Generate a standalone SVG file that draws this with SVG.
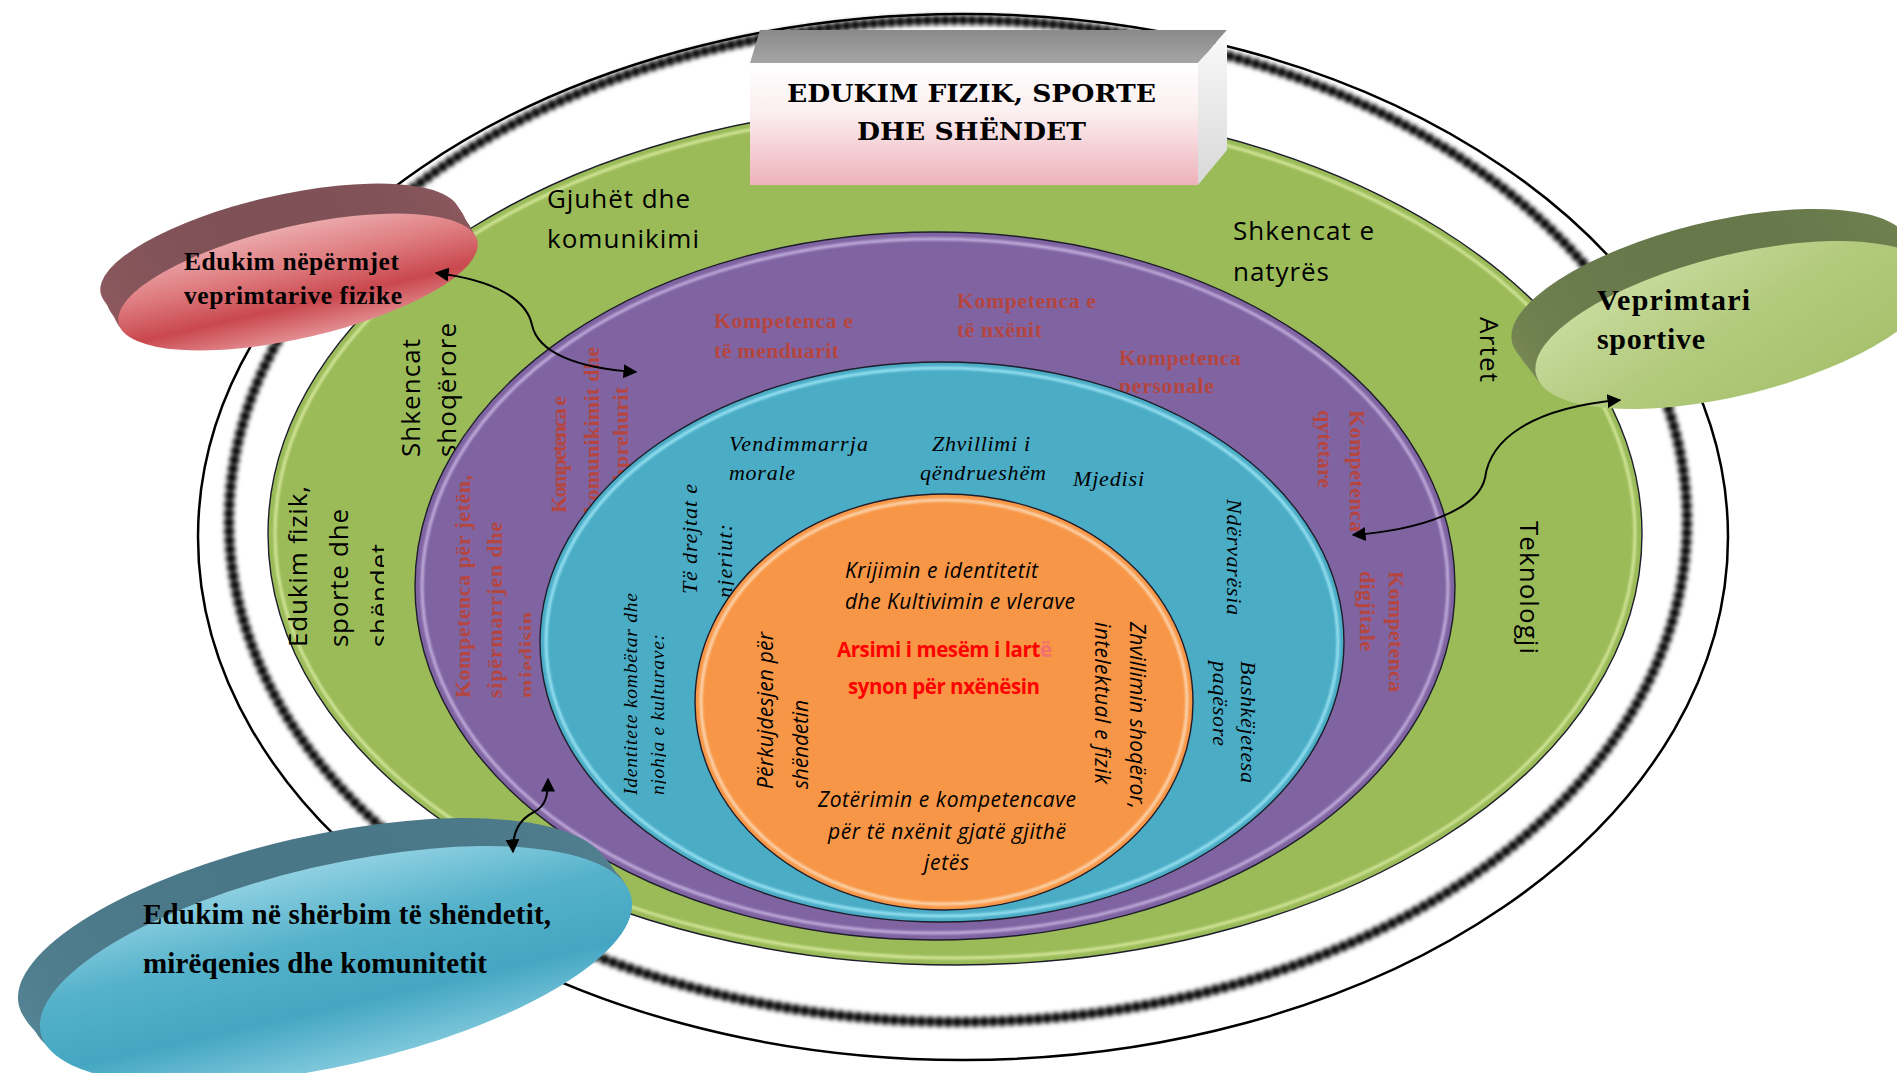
<svg xmlns="http://www.w3.org/2000/svg" width="1897" height="1073" viewBox="0 0 1897 1073">
<defs>
<style>
.sans{font-family:'Open Sans','Liberation Sans',sans-serif;font-size:26px;fill:#000}
.sansi{font-family:'Open Sans','Liberation Sans',sans-serif;font-style:italic;font-size:21px;fill:#000}
.red{font-family:'Open Sans','Liberation Sans',sans-serif;font-weight:bold;font-size:20.5px;fill:#FF0000}
.comp{font-family:'Liberation Serif','Times New Roman',serif;font-weight:bold;font-size:22px;fill:#B5453F}
.seri{font-family:'Liberation Serif','Times New Roman',serif;font-style:italic;font-size:22px;fill:#000}
.disk{font-family:'Liberation Serif','Times New Roman',serif;font-weight:bold;fill:#000}
.title{font-family:'DejaVu Serif','Liberation Serif',serif;font-weight:bold;font-size:24px;fill:#000}
.edge{fill:none;stroke:#1d1d2b;stroke-width:1.4}
.hl{fill:none;stroke-width:3;filter:url(#soft);opacity:.85}
.conn{fill:none;stroke:#000;stroke-width:2;marker-start:url(#ah);marker-end:url(#ah)}
</style>
<filter id="soft" x="-5%" y="-5%" width="110%" height="110%"><feGaussianBlur stdDeviation="1.2"/></filter>
<filter id="blur3" x="-5%" y="-5%" width="110%" height="110%"><feGaussianBlur stdDeviation="2"/></filter>
<marker id="ah" viewBox="0 0 10 10" refX="9" refY="5" markerWidth="7" markerHeight="7" orient="auto-start-reverse" markerUnits="strokeWidth"><path d="M0,0 L10,5 L0,10 z" fill="#000"/></marker>
<linearGradient id="redFace" x1="0" y1="0" x2="0" y2="1"><stop offset="0" stop-color="#eba8aa"/><stop offset=".35" stop-color="#de7c80"/><stop offset=".7" stop-color="#c9484e"/><stop offset="1" stop-color="#e38e92"/></linearGradient>
<linearGradient id="redRim" x1="0" y1="0" x2="0" y2="1"><stop offset="0" stop-color="#7e5156"/><stop offset="1" stop-color="#9c6167"/></linearGradient>
<linearGradient id="greenFace" x1="0" y1="0" x2="1" y2="1"><stop offset="0" stop-color="#cfe0a8"/><stop offset=".5" stop-color="#b2ca7c"/><stop offset="1" stop-color="#a3bf6a"/></linearGradient>
<linearGradient id="greenRim" x1="0" y1="0" x2="0" y2="1"><stop offset="0" stop-color="#66774a"/><stop offset="1" stop-color="#85965d"/></linearGradient>
<linearGradient id="blueFace" x1="0" y1="0" x2="0" y2="1"><stop offset="0" stop-color="#8fd0e2"/><stop offset=".35" stop-color="#55b2ca"/><stop offset=".7" stop-color="#44a6c2"/><stop offset="1" stop-color="#7fc8dc"/></linearGradient>
<linearGradient id="blueRim" x1="0" y1="0" x2="0" y2="1"><stop offset="0" stop-color="#4a7788"/><stop offset="1" stop-color="#5b8d9e"/></linearGradient>
<linearGradient id="front" x1="0" y1="0" x2="0" y2="1"><stop offset="0" stop-color="#ffffff"/><stop offset=".4" stop-color="#fbeff0"/><stop offset="1" stop-color="#eeb2bb"/></linearGradient>
<linearGradient id="topFace" x1="0" y1="0" x2="0" y2="1"><stop offset="0" stop-color="#8a8a8a"/><stop offset="1" stop-color="#a5a5a5"/></linearGradient>
<linearGradient id="rightFace" x1="0" y1="0" x2="0" y2="1"><stop offset="0" stop-color="#fafafa"/><stop offset="1" stop-color="#d8d8d8"/></linearGradient>
<ellipse id="redE" cx="0" cy="0" rx="184" ry="56" transform="rotate(-13)"/>
<ellipse id="greenE" cx="0" cy="0" rx="205" ry="70" transform="rotate(-14)"/>
<ellipse id="blueE" cx="0" cy="0" rx="303" ry="100" transform="rotate(-13)"/>
<clipPath id="clipA"><rect x="0" y="0" width="384" height="1073"/></clipPath>
<clipPath id="clipB"><rect x="0" y="0" width="531" height="1073"/></clipPath>
<clipPath id="clipC"><rect x="0" y="0" width="734" height="1073"/></clipPath>
<clipPath id="clipD"><rect x="0" y="0" width="666" height="1073"/></clipPath>
</defs>

<rect x="0" y="0" width="1897" height="1073" fill="#ffffff"/>

<g id="ring-outer">
<ellipse cx="963" cy="537" rx="765" ry="523" fill="#ffffff" stroke="#000" stroke-width="2.5"/>
<g filter="url(#blur3)">
<ellipse cx="958" cy="521" rx="729" ry="501" fill="none" stroke="#000" stroke-width="6" opacity=".75"/>
<ellipse cx="958" cy="521" rx="729" ry="501" fill="none" stroke="#000" stroke-width="10" stroke-dasharray="6 3"/>
</g>
</g>

<g id="band-subjects">
<ellipse cx="955" cy="534" rx="687" ry="431" fill="#9BBB59"/>
<ellipse class="hl" cx="955" cy="534" rx="680" ry="424" stroke="#dcedA4"/>
<ellipse class="edge" cx="955" cy="534" rx="687" ry="431"/>
<text class="sans" x="547" y="208" textLength="143">Gjuhët dhe</text>
<text class="sans" x="547" y="248" textLength="152">komunikimi</text>
<text class="sans" x="1233" y="240" textLength="141">Shkencat e</text>
<text class="sans" x="1233" y="281" textLength="96">natyrës</text>
<text class="sans" transform="translate(1480,317) rotate(90)" textLength="65">Artet</text>
<text class="sans" transform="translate(1520,521) rotate(90)" textLength="133">Teknologji</text>
<text class="sans" transform="translate(420,457) rotate(-90)" textLength="118">Shkencat</text>
<text class="sans" transform="translate(456,457) rotate(-90)" textLength="134">shoqërore</text>
<g clip-path="url(#clipA)">
<text class="sans" transform="translate(307,647) rotate(-90)" textLength="161">Edukim fizik,</text>
<text class="sans" transform="translate(348,647) rotate(-90)" textLength="138">sporte dhe</text>
<text class="sans" transform="translate(389,647) rotate(-90)" textLength="103">shëndet</text>
</g>
</g>

<g id="band-competences">
<ellipse cx="935" cy="586" rx="520" ry="354" fill="#8064A2"/>
<ellipse class="hl" cx="935" cy="586" rx="513" ry="347" stroke="#cdbbe6"/>
<ellipse class="edge" cx="935" cy="586" rx="520" ry="354"/>
<text class="comp" x="714" y="328" textLength="139">Kompetenca e</text>
<text class="comp" x="714" y="358" textLength="125">të menduarit</text>
<text class="comp" x="957" y="308" textLength="139">Kompetenca e</text>
<text class="comp" x="957" y="337" textLength="85">të nxënit</text>
<text class="comp" x="1119" y="365" textLength="122">Kompetenca</text>
<text class="comp" x="1119" y="393" textLength="95">personale</text>
<text class="comp" transform="translate(1350,410) rotate(90)" textLength="122">Kompetenca</text>
<text class="comp" transform="translate(1318,410) rotate(90)" textLength="78">qytetare</text>
<text class="comp" transform="translate(1389,571) rotate(90)" textLength="121">Kompetenca</text>
<text class="comp" transform="translate(1360,571) rotate(90)" textLength="80">digjitale</text>
<text class="comp" transform="translate(566,513) rotate(-90)" textLength="117">Kompetenca e</text>
<text class="comp" transform="translate(599,513) rotate(-90)" textLength="166">komunikimit dhe</text>
<text class="comp" transform="translate(628,513) rotate(-90)" textLength="126">të shprehurit</text>
<g clip-path="url(#clipB)">
<text class="comp" transform="translate(470,698) rotate(-90)" textLength="223">Kompetenca për jetën,</text>
<text class="comp" transform="translate(502,698) rotate(-90)" textLength="176">sipërmarrjen dhe</text>
<text class="comp" transform="translate(534,698) rotate(-90)" textLength="86">mjedisin</text>
</g>
</g>

<g id="band-themes">
<ellipse cx="942" cy="642" rx="402" ry="280" fill="#4BACC6"/>
<ellipse class="hl" cx="942" cy="642" rx="396" ry="274" stroke="#a4ecfa"/>
<ellipse class="edge" cx="942" cy="642" rx="402" ry="280"/>
<text class="seri" x="729" y="451" textLength="139">Vendimmarrja</text>
<text class="seri" x="729" y="480" textLength="66">morale</text>
<text class="seri" x="932" y="451" textLength="98">Zhvillimi i</text>
<text class="seri" x="920" y="480" textLength="126">qëndrueshëm</text>
<text class="seri" x="1073" y="486" textLength="71">Mjedisi</text>
<text class="seri" transform="translate(1227,499) rotate(90)" textLength="116">Ndërvarësia</text>
<text class="seri" transform="translate(1241,661) rotate(90)" textLength="122">Bashkëjetesa</text>
<text class="seri" transform="translate(1213,661) rotate(90)" textLength="85">paqësore</text>
<text class="seri" transform="translate(697,594) rotate(-90)" textLength="110">Të drejtat e</text>
<g clip-path="url(#clipC)">
<text class="seri" transform="translate(732,598) rotate(-90)" textLength="74">njeriut:</text>
</g>
<text class="seri" style="font-size:19.5px" transform="translate(637,795) rotate(-90)" textLength="202">Identitete kombëtar dhe</text>
<g clip-path="url(#clipD)">
<text class="seri" style="font-size:19.5px" transform="translate(664,795) rotate(-90)" textLength="161">njohja e kulturave:</text>
</g>
</g>

<g id="core">
<ellipse cx="944" cy="702" rx="249" ry="208" fill="#F79646"/>
<ellipse class="hl" cx="944" cy="702" rx="243" ry="202" stroke="#fde2c4"/>
<ellipse class="edge" cx="944" cy="702" rx="249" ry="208"/>
<text class="sansi" x="845" y="578" textLength="193">Krijimin e identitetit</text>
<text class="sansi" x="845" y="609" textLength="230">dhe Kultivimin e vlerave</text>
<text class="red" x="837" y="657" textLength="215">Arsimi i mesëm i lart<tspan fill="#F27070">ë</tspan></text>
<text class="red" x="848" y="694" textLength="192">synon për nxënësin</text>
<text class="sansi" transform="translate(773,789) rotate(-90)" textLength="157">Përkujdesjen për</text>
<text class="sansi" transform="translate(808,789) rotate(-90)" textLength="89">shëndetin</text>
<text class="sansi" x="818" y="807" textLength="258">Zotërimin e kompetencave</text>
<text class="sansi" x="828" y="839" textLength="238">për të nxënit gjatë gjithë</text>
<text class="sansi" x="924" y="870" textLength="45">jetës</text>
<text class="sansi" transform="translate(1130,622) rotate(90)" textLength="187">Zhvillimin shoqëror,</text>
<text class="sansi" transform="translate(1095,622) rotate(90)" textLength="162">intelektual e fizik</text>
</g>

<g id="title">
<polygon points="750,63 760,30 1227,30 1198,63" fill="url(#topFace)"/>
<polygon points="1198,63 1227,30 1227,150 1198,185" fill="url(#rightFace)"/>
<rect x="750" y="63" width="448" height="122" fill="url(#front)"/>
<text class="title" x="787" y="102" textLength="369" lengthAdjust="spacingAndGlyphs">EDUKIM FIZIK, SPORTE</text>
<text class="title" x="857" y="140" textLength="229" lengthAdjust="spacingAndGlyphs">DHE SHËNDET</text>
</g>

<g id="disk-physical">
<g fill="url(#redRim)">
<use href="#redE" transform="translate(280,252)"/>
<use href="#redE" transform="translate(282,255)"/>
<use href="#redE" transform="translate(284,258)"/>
<use href="#redE" transform="translate(286,261)"/>
<use href="#redE" transform="translate(287,264)"/>
<use href="#redE" transform="translate(289,267)"/>
<use href="#redE" transform="translate(291,270)"/>
<use href="#redE" transform="translate(293,273)"/>
<use href="#redE" transform="translate(294,276)"/>
<use href="#redE" transform="translate(296,279)"/>
</g>
<use href="#redE" transform="translate(298,282)" fill="url(#redFace)"/>
<text class="disk" font-size="25.5" x="184" y="270" textLength="215">Edukim nëpërmjet</text>
<text class="disk" font-size="25.5" x="184" y="304" textLength="218">veprimtarive fizike</text>
</g>

<g id="disk-sport">
<g fill="url(#greenRim)">
<use href="#greenE" transform="translate(1711,293)"/>
<use href="#greenE" transform="translate(1713,296)"/>
<use href="#greenE" transform="translate(1716,299)"/>
<use href="#greenE" transform="translate(1718,303)"/>
<use href="#greenE" transform="translate(1721,306)"/>
<use href="#greenE" transform="translate(1723,309)"/>
<use href="#greenE" transform="translate(1725,312)"/>
<use href="#greenE" transform="translate(1728,315)"/>
<use href="#greenE" transform="translate(1730,319)"/>
<use href="#greenE" transform="translate(1733,322)"/>
</g>
<use href="#greenE" transform="translate(1735,325)" fill="url(#greenFace)"/>
<text class="disk" font-size="30" x="1597" y="310" textLength="153">Veprimtari</text>
<text class="disk" font-size="30" x="1597" y="349" textLength="108">sportive</text>
</g>

<g id="disk-health">
<g fill="url(#blueRim)">
<use href="#blueE" transform="translate(314,937)"/>
<use href="#blueE" transform="translate(316,940)"/>
<use href="#blueE" transform="translate(318,943)"/>
<use href="#blueE" transform="translate(321,945)"/>
<use href="#blueE" transform="translate(323,948)"/>
<use href="#blueE" transform="translate(325,951)"/>
<use href="#blueE" transform="translate(327,954)"/>
<use href="#blueE" transform="translate(329,957)"/>
<use href="#blueE" transform="translate(332,959)"/>
<use href="#blueE" transform="translate(334,962)"/>
</g>
<use href="#blueE" transform="translate(336,965)" fill="url(#blueFace)"/>
<text class="disk" font-size="29" x="143" y="924" textLength="408">Edukim në shërbim të shëndetit,</text>
<text class="disk" font-size="29" x="143" y="973" textLength="344">mirëqenies dhe komunitetit</text>
</g>

<g id="connectors">
<path class="conn" d="M 436 273 C 495 280, 527 300, 532 325 C 538 352, 575 368, 636 372"/>
<path class="conn" d="M 1353 535 C 1420 530, 1478 510, 1485 478 C 1490 440, 1530 408, 1620 400"/>
<path class="conn" d="M 513 852 C 512 830, 522 818, 534 812 C 546 806, 548 795, 548 779"/>
</g>
</svg>
